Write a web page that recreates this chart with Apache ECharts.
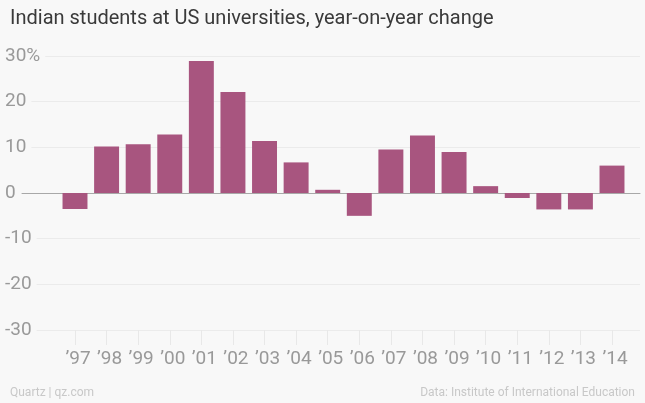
<!DOCTYPE html>
<html>
<head>
    <meta charset="utf-8">
    <title>Indian students at US universities</title>
    <script src="https://cdn.jsdelivr.net/npm/echarts@6/dist/echarts.min.js"></script>
</head>
<style>
    html, body{
        margin: 0;
        padding: 0;
        background-color: #f8f8f8;
    }
    #main{
        width: 645px;
        height: 403px;
    }
</style>
<body>
<div id="main"></div>
<script>
    // 年份标签
    var years = ['’97', '’98', '’99', '’00', '’01', '’02', '’03', '’04', '’05',
        '’06', '’07', '’08', '’09', '’10', '’11', '’12', '’13', '’14'];
    // 同比变化 (%)
    var change = [-3.5, 10.2, 10.7, 12.8, 28.9, 22.1, 11.4, 6.7, 0.7,
        -5.0, 9.5, 12.6, 9.0, 1.5, -1.1, -3.6, -3.6, 6.0];
    var yTicks = [-30, -20, -10, 0, 10, 20, 30];

    var bg = '#f8f8f8';
    var font = 'Roboto, "Noto Sans", sans-serif';

    var myChart = echarts.init(document.getElementById('main'));
    var option = {
        backgroundColor: bg,
        animation: false,
        title: [
            {text: 'Indian students at US universities, year-on-year change', left: 5, top: 4,
                textStyle: {fontFamily: font, fontSize: 20, fontWeight: 'normal', color: '#3a3a3a'}},
            {text: 'Quartz | qz.com', left: 5, top: 382,
                textStyle: {fontFamily: font, fontSize: 12, fontWeight: 'normal', color: '#c8c8c8'}},
            {text: 'Data: Institute of International Education', right: 5, top: 382,
                textStyle: {fontFamily: font, fontSize: 12, fontWeight: 'normal', color: '#c8c8c8'}}
        ],
        grid: [
            {left: 22, right: 5, top: 56, bottom: 73},   // 网格线 + 零线
            {left: 75, right: 33, top: 56, bottom: 73}   // 柱子（首尾柱中心）
        ],
        xAxis: [
            {type: 'value', gridIndex: 0, min: 0, max: 1, show: true,
                axisLine: {show: true, onZero: true, lineStyle: {color: '#a8a8a8', width: 1}},
                axisTick: {show: false}, axisLabel: {show: false}, splitLine: {show: false}},
            {type: 'category', gridIndex: 1, data: years, boundaryGap: false,
                axisLine: {show: false, onZero: false},
                axisTick: {show: true, length: 15, lineStyle: {color: '#e8e8e8'}},
                axisLabel: {fontFamily: font, fontSize: 19, color: '#999', margin: 20, interval: 0,
                    hideOverlap: false, padding: [0, 0, 0, 6]}}
        ],
        yAxis: [
            {type: 'value', gridIndex: 0, min: yTicks[0], max: yTicks[yTicks.length - 1], interval: 10,
                axisLine: {show: false}, axisTick: {show: false}, axisLabel: {show: false},
                splitLine: {show: true, lineStyle: {color: '#ebebeb'}}},
            {type: 'value', gridIndex: 1, min: yTicks[0], max: yTicks[yTicks.length - 1], interval: 10, z: 3,
                axisLine: {show: false}, axisTick: {show: false}, splitLine: {show: false},
                axisLabel: {fontFamily: font, fontSize: 19, color: '#999', align: 'left', margin: 70,
                    backgroundColor: bg, padding: [2, 5, 2, 0],
                    formatter: function (v) { return v === 30 ? v + '%' : '' + v; }}}
        ],
        series: [
            {type: 'bar', xAxisIndex: 1, yAxisIndex: 1, data: change, barCategoryGap: '21%', clip: false,
                itemStyle: {color: '#a8557f'}}
        ]
    };
    myChart.setOption(option);
</script>
</body>
</html>
